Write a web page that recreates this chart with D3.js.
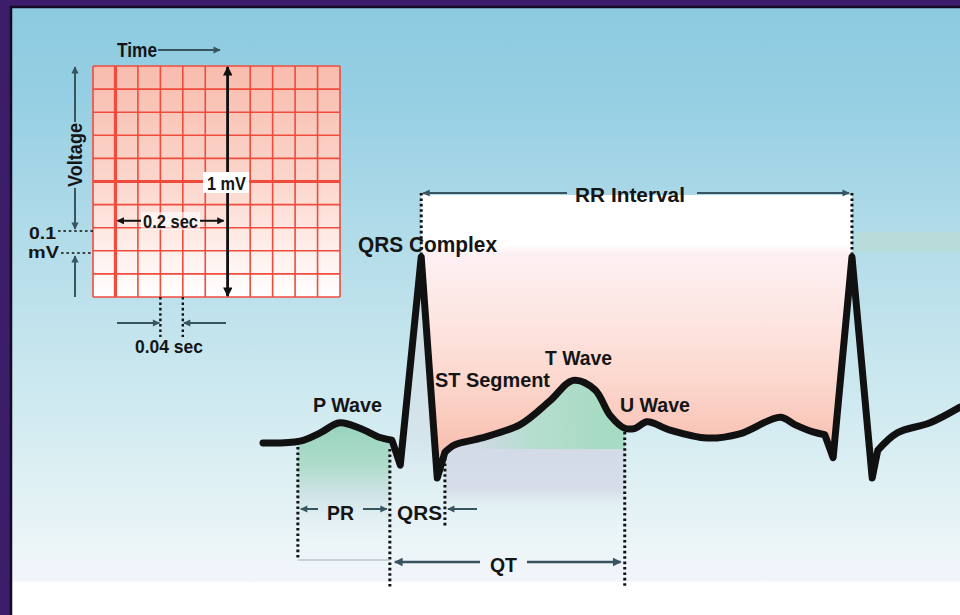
<!DOCTYPE html>
<html>
<head>
<meta charset="utf-8">
<script src="https://cdn.jsdelivr.net/npm/d3@7"></script>
<style>
html, body { margin: 0; padding: 0; background: #3b1d6a; }
svg { display: block; }
text { font-family: "Liberation Sans", Arial, sans-serif; font-weight: bold; fill: #151515; }
</style>
</head>
<body>
<svg id="chart" width="960" height="615"></svg>
<script>
// one beat plus the next R wave: time in ms, voltage in mV
const traceTime = [0, 53, 82, 110, 139, 168, 185, 197, 227, 250, 261, 275, 311, 369, 412, 445, 476, 498, 519, 534, 551, 584, 637, 684, 742, 763, 789, 806, 818, 845, 874, 882, 910, 957, 1000];
const traceVolt = [-0.01, 0, 0.045, 0.10, 0.07, 0.02, 0.005, -0.13, 1.0, -0.2, -0.06, -0.02, 0.015, 0.09, 0.22, 0.33, 0.28, 0.14, 0.07, 0.07, 0.105, 0.06, 0.017, 0.04, 0.13, 0.09, 0.05, 0.035, -0.09, 1.0, -0.2, -0.05, 0.045, 0.10, 0.185];
// indexes where the trace turns sharply (Q, R, S of both beats)
const sharpIdx = [6, 7, 8, 9, 10, 27, 28, 29, 30, 31];
const rPeakIdx = [8, 29];

// interval marks, ms: P onset, QRS onset, QRS end, T end
const markTime = [50, 182, 261, 519];

// ECG paper inset: 11 small boxes of 0.04 s, 10 boxes of 0.1 mV
const gridCols = d3.range(0, 0.44 + 1e-9, 0.04);
const gridRows = d3.range(0, 1.0 + 1e-9, 0.1);
const gridThickCol = 0.04;
const gridThickRow = 0.5;

const ARROW = '#38545e';
const INK = '#111';

const svg = d3.select('#chart');
const defs = svg.append('defs');

const x = d3.scaleLinear().domain([0, 1000]).range([263, 960]);
const y = d3.scaleLinear().domain([-0.2, 1.0]).range([478, 257]);
const gx = d3.scaleLinear().domain([0, 0.44]).range([93, 340]);
const gy = d3.scaleLinear().domain([0, 1.0]).range([297, 66]);

const points = traceTime.map((t, i) => ({ t: t, v: traceVolt[i] }));

function gradient(id, stops, x1, y1, x2, y2) {
    const g = defs.append('linearGradient')
        .attr('id', id)
        .attr('gradientUnits', 'userSpaceOnUse')
        .attr('x1', x1).attr('x2', x2).attr('y1', y1).attr('y2', y2);
    stops.forEach(s => g.append('stop').attr('offset', s[0]).attr('stop-color', s[1]).attr('stop-opacity', s[2] === undefined ? 1 : s[2]));
}

// panel background
gradient('bg', [
    [0, '#8ccae0'], [0.15, '#96cfe3'], [0.33, '#acd9e8'], [0.5, '#bfe2ec'],
    [0.68, '#d2ebf1'], [0.8, '#e1f1f4'], [0.9, '#edf5f8'], [0.944, '#f2f4fc'], [0.946, '#ffffff'], [1, '#ffffff']
], 0, 8, 0, 615);
gradient('rr', [
    [0, '#ffffff'], [0.2, '#ffffff'], [0.24, '#fdf0f3'], [0.5, '#fde6e2'], [0.75, '#fcd8ce'], [1, '#f8c3b4']
], 0, 195, 0, 440);
gradient('pfill', [
    [0, '#98d4bf'], [0.35, '#aedcca'], [0.6, '#cfe3e6'], [1, '#e6f2f4', 0]
], 0, 425, 0, 540);
gradient('qfill', [
    [0, '#c9dbe4'], [0.7, '#d3e4ea'], [1, '#dcecf0', 0]
], 0, 260, 0, 500);
gradient('stfill', [
    [0, '#d2d9e7'], [0.75, '#d7deea'], [1, '#dfe9f0', 0]
], 0, 430, 0, 510);
gradient('tfill', [
    [0, '#b0dec9', 0], [0.45, '#b0dec9', 0.8], [1, '#a8dbc4']
], 470, 0, 600, 0);
gradient('paper', [
    [0, '#f8bcad'], [0.5, '#fbd6cc'], [0.85, '#fff3f0'], [1, '#ffffff']
], 0, 66, 0, 297);

svg.append('rect').attr('x', 12).attr('y', 8).attr('width', 948).attr('height', 607)
    .attr('fill', 'url(#bg)');
svg.append('path').attr('d', 'M11,615V7H960')
    .attr('fill', 'none').attr('stroke', '#140a24').attr('stroke-width', 2.5);
// faint banding on the right edge
svg.append('rect').attr('x', 855).attr('y', 232).attr('width', 105).attr('height', 20)
    .attr('fill', '#b9dcd6').attr('opacity', 0.8);

// trace path: smooth runs, straight strokes between sharp points
const line = d3.line().x(d => x(d.t)).y(d => y(d.v));
function tracePath(i0, i1) {
    const cuts = [i0, ...sharpIdx.filter(i => i > i0 && i < i1), i1];
    let d = '';
    for (let k = 0; k < cuts.length - 1; k++) {
        const piece = points.slice(cuts[k], cuts[k + 1] + 1);
        line.curve(piece.length > 2 ? d3.curveCatmullRom.alpha(0.5) : d3.curveLinear);
        const s = line(piece);
        d += k === 0 ? s : s.replace(/^M[^LC]*/, '');
    }
    return d;
}
const fullTrace = tracePath(0, points.length - 1);
const last = points[points.length - 1];

// region under the trace, used to clip the soft fills
defs.append('clipPath').attr('id', 'below')
    .append('path')
    .attr('d', fullTrace + `L${x(last.t)},600L${x(0)},600Z`);

const below = svg.append('g').attr('clip-path', 'url(#below)');
below.append('rect')
    .attr('x', x(markTime[0])).attr('width', x(markTime[1]) - x(markTime[0]))
    .attr('y', 400).attr('height', 160).attr('fill', 'url(#pfill)');
below.append('rect')
    .attr('x', x(markTime[1])).attr('width', x(markTime[2]) - x(markTime[1]))
    .attr('y', 250).attr('height', 250).attr('fill', 'url(#qfill)');
below.append('rect')
    .attr('x', x(markTime[2])).attr('width', x(markTime[3]) - x(markTime[2]))
    .attr('y', 380).attr('height', 140).attr('fill', 'url(#stfill)');
below.append('rect')
    .attr('x', x(markTime[2])).attr('width', x(markTime[3]) - x(markTime[2]))
    .attr('y', 370).attr('height', 79).attr('fill', 'url(#tfill)');

// RR interval band above the trace
const rrTop = 195;
const ra = points[rPeakIdx[0]], rb = points[rPeakIdx[1]];
svg.append('path')
    .attr('d', `M${x(ra.t)},${rrTop}L` + tracePath(rPeakIdx[0], rPeakIdx[1]).slice(1) + `L${x(rb.t)},${rrTop}Z`)
    .attr('fill', 'url(#rr)');

// ECG paper inset
const paper = svg.append('g');
paper.append('rect')
    .attr('x', gx(0)).attr('y', gy(1)).attr('width', gx(0.44) - gx(0)).attr('height', gy(0) - gy(1))
    .attr('fill', 'url(#paper)');
paper.selectAll('.col').data(gridCols).join('line')
    .attr('x1', d => gx(d)).attr('x2', d => gx(d)).attr('y1', gy(0)).attr('y2', gy(1))
    .attr('stroke', '#f04b3c')
    .attr('stroke-width', d => Math.abs(d - gridThickCol) < 1e-6 ? 3.2 : 1.6);
paper.selectAll('.row').data(gridRows).join('line')
    .attr('y1', d => gy(d)).attr('y2', d => gy(d)).attr('x1', gx(0)).attr('x2', gx(0.44))
    .attr('stroke', '#f04b3c')
    .attr('stroke-width', d => Math.abs(d - gridThickRow) < 1e-6 ? 3.2 : 1.6);

// arrow heads
function marker(id, color) {
    defs.append('marker')
        .attr('id', id).attr('viewBox', '0 0 10 10').attr('refX', 9).attr('refY', 5)
        .attr('markerWidth', 4.2).attr('markerHeight', 3.6).attr('orient', 'auto')
        .append('path').attr('d', 'M0,0L10,5L0,10Z').attr('fill', color);
}
marker('ah', ARROW);
marker('ahk', INK);

function arrow(x1, y1, x2, y2, color, w) {
    svg.append('line')
        .attr('x1', x1).attr('y1', y1).attr('x2', x2).attr('y2', y2)
        .attr('stroke', color || ARROW).attr('stroke-width', w || 2)
        .attr('marker-end', color === INK ? 'url(#ahk)' : 'url(#ah)');
}
function dotted(x1, y1, x2, y2, w) {
    svg.append('line')
        .attr('x1', x1).attr('y1', y1).attr('x2', x2).attr('y2', y2)
        .attr('stroke', INK).attr('stroke-width', w || 3).attr('stroke-dasharray', '2.6,2.8');
}
function label(txt, x0, yb, width, size) {
    return svg.append('text')
        .attr('x', x0).attr('y', yb)
        .attr('font-size', size)
        .attr('textLength', width).attr('lengthAdjust', 'spacingAndGlyphs')
        .text(txt);
}

// inset annotations
label('Time', 117, 57, 40, 20);
arrow(158, 50, 220, 50);

svg.append('text')
    .attr('transform', 'translate(82,155) rotate(-90)')
    .attr('text-anchor', 'middle').attr('font-size', 20)
    .attr('textLength', 64).attr('lengthAdjust', 'spacingAndGlyphs')
    .text('Voltage');
arrow(75, 122, 75, 67);
arrow(75, 188, 75, 229);
arrow(75, gy(0), 75, 256);
dotted(58, 231, gx(0), 231, 1.6);
dotted(61, 253, gx(0), 253, 1.6);
label('0.1', 29, 239, 27, 17);
label('mV', 28, 258, 31, 17);

arrow(gx(0.24), gy(0) - 1, gx(0.24), gy(1) + 1, INK, 2.6);
arrow(gx(0.24), gy(1) + 1, gx(0.24), gy(0) - 1, INK, 2.6);
svg.append('rect').attr('x', 203).attr('y', 172).attr('width', 46).attr('height', 21).attr('fill', '#fff');
label('1 mV', 207, 190, 39, 19);

svg.append('rect').attr('x', 141).attr('y', 212).attr('width', 59).attr('height', 18).attr('fill', '#fff').attr('opacity', 0.6);
arrow(141, gy(0.33), gx(0.04) + 2, gy(0.33), INK, 2);
arrow(200, gy(0.33), gx(0.24) - 4, gy(0.33), INK, 2);
label('0.2 sec', 143, 228, 55, 19);

dotted(gx(0.12), gy(0), gx(0.12), 337, 2.4);
dotted(gx(0.16), gy(0), gx(0.16), 337, 2.4);
arrow(117, 323, gx(0.12) - 1, 323);
arrow(226, 323, gx(0.16) + 1, 323);
label('0.04 sec', 135, 353, 68, 19);

// RR interval
dotted(x(ra.t), 193, x(ra.t), y(ra.v));
dotted(x(rb.t), 193, x(rb.t), y(rb.v));
arrow(567, 193, x(ra.t) + 2, 193);
arrow(697, 193, x(rb.t) - 3, 193);
label('RR Interval', 575, 202, 110, 21);

// interval marks under the trace
dotted(x(markTime[0]), 447, x(markTime[0]), 560);
dotted(x(markTime[1]), 449, x(markTime[1]), 588);
dotted(x(markTime[2]), 458, x(markTime[2]), 527);
dotted(x(markTime[3]), 432, x(markTime[3]), 588);
svg.append('line')
    .attr('x1', x(markTime[0])).attr('x2', x(markTime[1])).attr('y1', 560).attr('y2', 560)
    .attr('stroke', '#9fb0b6').attr('stroke-width', 1.2);

arrow(318, 509, x(markTime[0]) + 3, 509);
arrow(363, 509, x(markTime[1]) - 3, 509);
arrow(477, 509, x(markTime[2]) + 3, 509);
arrow(480, 562, x(markTime[1]) + 5, 562, ARROW, 2.4);
arrow(527, 562, x(markTime[3]) - 4, 562, ARROW, 2.4);
label('PR', 327, 520, 27, 21);
label('QRS', 397, 520, 45, 21);
label('QT', 490, 572, 27, 21);

// the trace itself
svg.append('path')
    .attr('d', fullTrace)
    .attr('fill', 'none').attr('stroke', INK).attr('stroke-width', 7)
    .attr('stroke-linejoin', 'round').attr('stroke-linecap', 'round');

// wave labels
label('QRS Complex', 358, 252, 139, 22);
label('P Wave', 313, 412, 69, 21);
label('ST Segment', 435, 387, 115, 21);
label('T Wave', 545, 365, 67, 21);
label('U Wave', 620, 412, 70, 21);
</script>
</body>
</html>
